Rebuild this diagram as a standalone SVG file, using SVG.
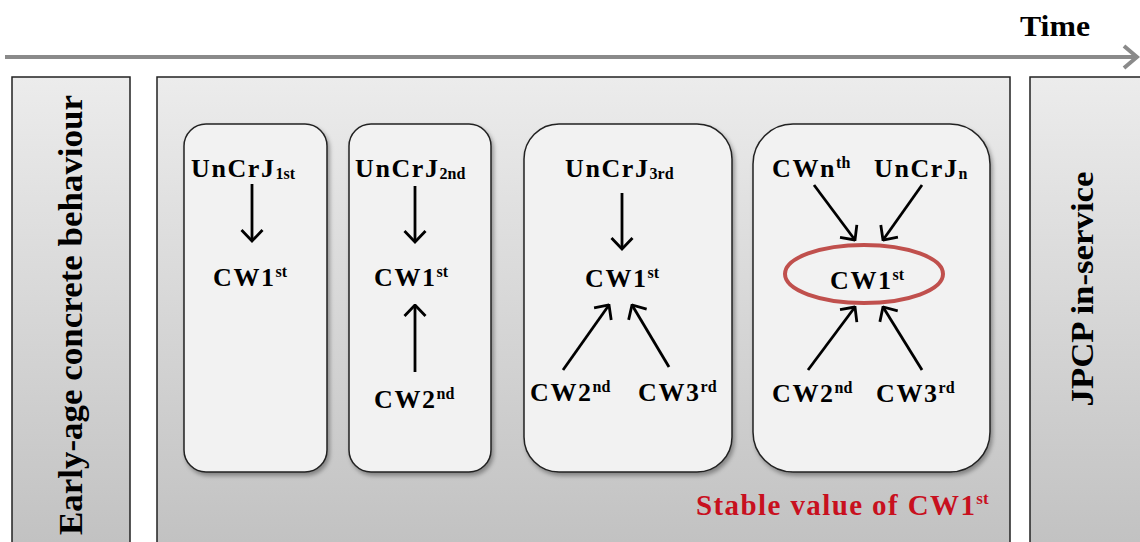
<svg xmlns="http://www.w3.org/2000/svg" width="1140" height="542" viewBox="0 0 1140 542">
<defs>
<linearGradient id="pg" x1="0" y1="77" x2="0" y2="542" gradientUnits="userSpaceOnUse">
<stop offset="0" stop-color="#ececec"/><stop offset="1" stop-color="#c2c2c2"/>
</linearGradient>
<filter id="sh" x="-10%" y="-10%" width="125%" height="125%">
<feDropShadow dx="2" dy="3" stdDeviation="2" flood-color="#000" flood-opacity="0.35"/>
</filter>
<marker id="ah" viewBox="0 0 14 24" refX="12.5" refY="12" markerWidth="14" markerHeight="24" markerUnits="userSpaceOnUse" orient="auto">
<polyline points="1.5,1.5 12.5,12 1.5,22.5" fill="none" stroke="#000" stroke-width="2.8"/>
</marker>
</defs>
<style>
.panel{fill:url(#pg);stroke:#222;stroke-width:1.5}
.box{fill:#f2f2f2;stroke:#222;stroke-width:1.5;filter:url(#sh)}
.t{font-family:"Liberation Serif","Times New Roman",serif;font-weight:bold;font-size:26px;fill:#000;letter-spacing:1.6px}
.s{font-size:16px;letter-spacing:0}
.v{font-family:"Liberation Serif","Times New Roman",serif;font-weight:bold;font-size:33px;fill:#000}
.c{stroke:#000;stroke-width:2.8;fill:none;marker-end:url(#ah)}
</style>
<rect width="1140" height="542" fill="#fff"/>
<g id="time">
<line x1="5" y1="57" x2="1136" y2="57" stroke="#8a8a8a" stroke-width="4"/>
<polyline points="1124,46 1137,57 1124,68" fill="none" stroke="#8a8a8a" stroke-width="4"/>
<text x="1020" y="36" class="v" style="font-size:30px" textLength="70" lengthAdjust="spacingAndGlyphs">Time</text>
</g>
<g id="early">
<rect class="panel" x="12" y="77" width="118" height="480"/>
<text class="v" transform="translate(82,315) rotate(-90)" text-anchor="middle" textLength="440" lengthAdjust="spacingAndGlyphs">Early-age concrete behaviour</text>
</g>
<g id="main">
<rect class="panel" x="157" y="77" width="853" height="480"/>
</g>
<g id="jpcp">
<rect class="panel" x="1030" y="77" width="130" height="480"/>
<text class="v" style="font-size:32px" transform="translate(1093,289) rotate(-90)" text-anchor="middle" textLength="235" lengthAdjust="spacingAndGlyphs">JPCP in-service</text>
</g>
<g id="box1">
<rect class="box" x="184" y="124" width="143" height="348" rx="22"/>
<text class="t" x="191" y="177">UnCrJ<tspan class="s" dy="2">1st</tspan></text>
<text class="t" x="213" y="286">CW1<tspan class="s" dy="-9">st</tspan></text>
</g>
<g id="box2">
<rect class="box" x="349" y="124" width="142" height="348" rx="22"/>
<text class="t" x="355" y="177">UnCrJ<tspan class="s" dy="2">2nd</tspan></text>
<text class="t" x="374" y="286">CW1<tspan class="s" dy="-9">st</tspan></text>
<text class="t" x="374" y="408">CW2<tspan class="s" dy="-9">nd</tspan></text>
</g>
<g id="box3">
<rect class="box" x="524" y="124" width="208" height="348" rx="35"/>
<text class="t" x="565" y="177">UnCrJ<tspan class="s" dy="2">3rd</tspan></text>
<text class="t" x="585" y="287">CW1<tspan class="s" dy="-9">st</tspan></text>
<text class="t" x="530" y="401">CW2<tspan class="s" dy="-9">nd</tspan></text>
<text class="t" x="638" y="401">CW3<tspan class="s" dy="-9">rd</tspan></text>
</g>
<g id="box4">
<rect class="box" x="753" y="124" width="237" height="348" rx="40"/>
<text class="t" x="772" y="177">CWn<tspan class="s" dy="-9">th</tspan></text>
<text class="t" x="874" y="177">UnCrJ<tspan class="s" dy="2">n</tspan></text>
<ellipse cx="864" cy="274" rx="79" ry="29" fill="none" stroke="#c0504d" stroke-width="4"/>
<text class="t" x="830" y="289">CW1<tspan class="s" dy="-9">st</tspan></text>
<text class="t" x="772" y="402">CW2<tspan class="s" dy="-9">nd</tspan></text>
<text class="t" x="876" y="402">CW3<tspan class="s" dy="-9">rd</tspan></text>
</g>
<g id="connectors">
<line class="c" x1="252" y1="184" x2="252" y2="241"/>
<line class="c" x1="415" y1="186" x2="415" y2="242"/>
<line class="c" x1="415" y1="372" x2="415" y2="305"/>
<line class="c" x1="622" y1="193" x2="622" y2="249"/>
<line class="c" x1="563" y1="370" x2="609" y2="305"/>
<line class="c" x1="669" y1="367" x2="632" y2="305"/>
<line class="c" x1="814" y1="185" x2="855" y2="240"/>
<line class="c" x1="922" y1="185" x2="883" y2="240"/>
<line class="c" x1="808" y1="370" x2="855" y2="307"/>
<line class="c" x1="922" y1="370" x2="883" y2="307"/>
</g>
<g id="stable">
<text x="696" y="515" style="font-family:'Liberation Serif','Times New Roman',serif;font-weight:bold;font-size:29px;letter-spacing:1.4px;fill:#c8101e">Stable value of CW1<tspan style="font-size:17px;letter-spacing:0" dy="-11">st</tspan></text>
</g>
</svg>
